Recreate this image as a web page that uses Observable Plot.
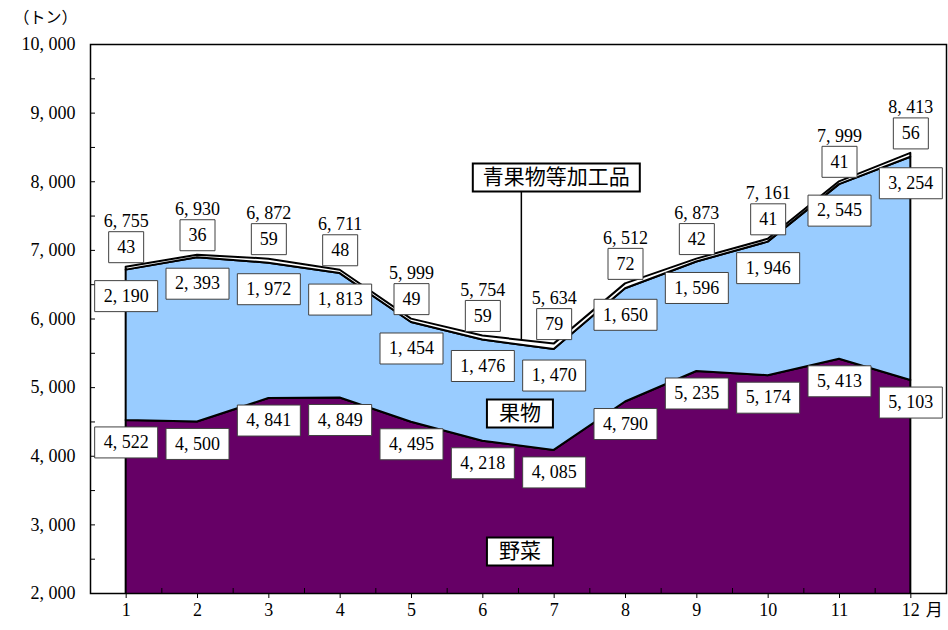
<!DOCTYPE html>
<html><head><meta charset="utf-8">
<script src="https://cdn.jsdelivr.net/npm/d3@7"></script>
<script src="https://cdn.jsdelivr.net/npm/@observablehq/plot@0.6"></script>
<style>body{margin:0;background:#fff} svg{display:block}</style>
</head><body><div id="chart"></div>
<script>
const months = [1, 2, 3, 4, 5, 6, 7, 8, 9, 10, 11, 12];
const vegetables = [4522, 4500, 4841, 4849, 4495, 4218, 4085, 4790, 5235, 5174, 5413, 5103];
const fruits = [2190, 2393, 1972, 1813, 1454, 1476, 1470, 1650, 1596, 1946, 2545, 3254];
const processed = [43, 36, 59, 48, 49, 59, 79, 72, 42, 41, 41, 56];
const totals = [6755, 6930, 6872, 6711, 5999, 5754, 5634, 6512, 6873, 7161, 7999, 8413];
const seriesNames = ["野菜", "果物", "青果物等加工品"];
const seriesColors = ["#660066", "#99ccff", "#ffffff"];
const yTicks = [2000, 3000, 4000, 5000, 6000, 7000, 8000, 9000, 10000];
const unitLabel = "（トン）";
const monthSuffix = "月";

const seriesValues = [vegetables, fruits, processed];
const table = [];
seriesNames.forEach((s, k) => months.forEach((m, i) => table.push({month: m, series: s, value: seriesValues[k][i]})));

const fmt = v => d3.format(",")(v).replace(",", ", ");
const idx = months.map((m, i) => i);
const numFont = "'Liberation Serif','Noto Sans CJK JP',serif";
const cjkFont = "'Noto Sans CJK JP',sans-serif";
const fs = 18;

const boxSymbol = (w, h) => ({draw(ctx) { ctx.rect(-w / 2, -h / 2, w, h); }});

function boxedLabels(yFn, valFn, dy, w) {
  return [
    Plot.dot(idx, {x: i => months[i], y: yFn, dy, symbol: boxSymbol(w, 31), fill: "white", stroke: "#404040", strokeWidth: 1}),
    Plot.text(idx, {x: i => months[i], y: yFn, text: i => fmt(valFn(i)), dy, fontSize: fs})
  ];
}
function annotation(name, mx, vy, w) {
  return [
    Plot.dot([name], {x: () => mx, y: () => vy, symbol: boxSymbol(w, 28), fill: "white", stroke: "black", strokeWidth: 2}),
    Plot.text([name], {x: () => mx, y: () => vy, text: d => d, fontSize: 21, fontFamily: cjkFont})
  ];
}

const chart = Plot.plot({
  width: 948, height: 630,
  marginLeft: 90, marginRight: 2, marginTop: 44, marginBottom: 37,
  style: {fontFamily: numFont, fontSize: fs + "px", background: "white", color: "black"},
  x: {domain: [0.5, 12.5]},
  y: {domain: [2000, 10000]},
  color: {domain: seriesNames, range: seriesColors},
  marks: [
    Plot.areaY(table, {x: "month", y: "value", z: "series", fill: "series", order: seriesNames,
      stroke: "black", strokeWidth: 2, clip: true}),
    Plot.frame({stroke: "black", strokeWidth: 1.5}),
    Plot.axisY({ticks: yTicks, tickSize: 0, tickPadding: 15, tickFormat: fmt, fontSize: fs, fontFamily: numFont, label: null}),
    Plot.axisY({ticks: d3.range(2000, 10001, 500), tickSize: 5, dx: 5, tickFormat: () => "", label: null}),
    Plot.axisX({ticks: months, tickSize: 5, tickPadding: 5, tickFormat: d => String(d), fontSize: fs, fontFamily: numFont, label: null}),
    Plot.axisX({ticks: d3.range(1.5, 12, 1), tickSize: 5, dy: -5, tickFormat: () => "", label: null}),
    Plot.text([monthSuffix], {x: () => 12, y: () => 2000, text: d => d, dx: 15, dy: 17, textAnchor: "start", fontSize: 17, fontFamily: cjkFont}),
    Plot.text([unitLabel], {frameAnchor: "top-left", text: d => d, dx: -45, dy: -27, textAnchor: "middle", lineAnchor: "middle", fontSize: 16, fontFamily: cjkFont}),
    // callout line for 青果物等加工品
    Plot.ruleX([6.54], {x: d => d, y1: 8062, y2: 5690, stroke: "black", strokeWidth: 1.5}),
    // totals
    Plot.text(idx, {x: i => months[i], y: i => totals[i], text: i => fmt(totals[i]), dy: -46, fontSize: fs}),
    ...boxedLabels(i => vegetables[i] + fruits[i] + processed[i], i => processed[i], -20, 35),
    ...boxedLabels(i => vegetables[i] + fruits[i], i => fruits[i], 26, 63),
    ...boxedLabels(i => vegetables[i], i => vegetables[i], 22, 63),
    ...annotation(seriesNames[2], 7.03, 8062, 167),
    ...annotation(seriesNames[1], 6.52, 4623, 66),
    ...annotation(seriesNames[0], 6.52, 2612, 66)
  ]
});
document.getElementById("chart").appendChild(chart);
</script>
</body></html>
